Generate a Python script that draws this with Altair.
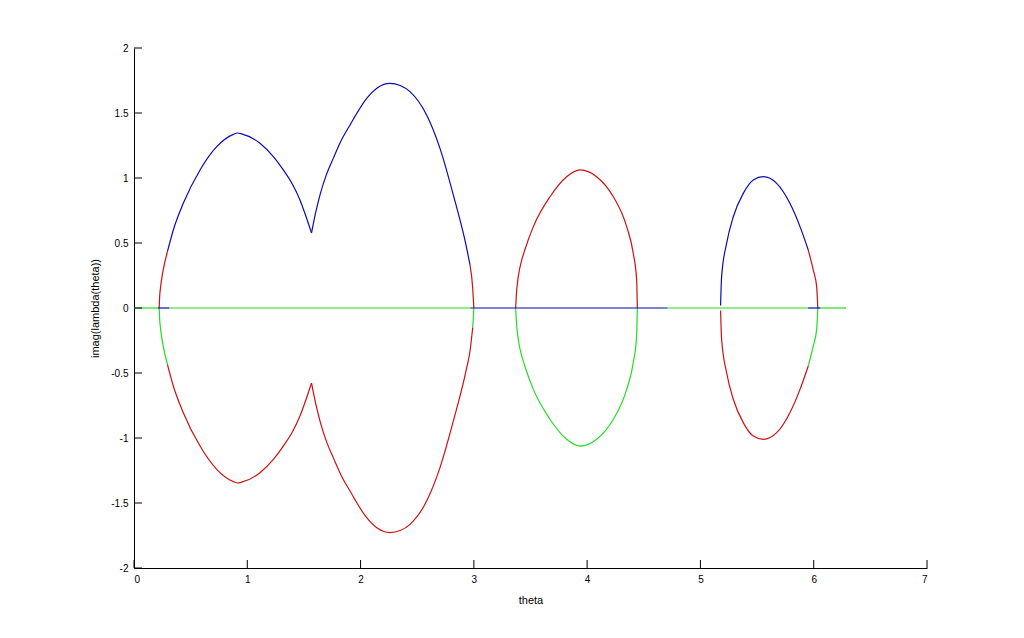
import altair as alt
import pandas as pd

# ---- data ----
x_ticks = [0, 1, 2, 3, 4, 5, 6, 7]
y_ticks = [-2, -1.5, -1, -0.5, 0, 0.5, 1, 1.5, 2]

# blue series
b1_x = [0.21, 0.31]
b1_y = [0.0, 0.0]
b2a_x = [0.295, 0.347, 0.435, 0.583, 0.730, 0.877, 0.912, 0.95, 1.112, 1.230, 1.318, 1.40, 1.465, 1.52, 1.567]
b2a_y = [0.433, 0.600, 0.805, 1.062, 1.241, 1.336, 1.346, 1.340, 1.267, 1.164, 1.062, 0.95, 0.831, 0.70, 0.577]
b2b_x = [1.567, 1.60, 1.642, 1.70, 1.759, 1.83, 1.907, 2.054, 2.15, 2.26, 2.35, 2.436, 2.583, 2.701, 2.819, 2.937, 2.966]
b2b_y = [0.577, 0.72, 0.87, 1.03, 1.151, 1.29, 1.408, 1.613, 1.695, 1.728, 1.712, 1.664, 1.485, 1.228, 0.869, 0.459, 0.331]
b3_x = [2.97, 4.71]
b3_y = [0.0, 0.0]
b4_x = [5.178, 5.187, 5.231, 5.290, 5.378, 5.467, 5.555, 5.673, 5.790, 5.879, 5.952]
b4_y = [0.02, 0.241, 0.497, 0.702, 0.882, 0.985, 1.010, 0.959, 0.805, 0.626, 0.446]
b5_x = [5.95, 6.06]
b5_y = [0.0, 0.0]

# red series
r1_x = [0.222, 0.226, 0.236, 0.255, 0.295]
r1_y = [0.0, 0.08, 0.17, 0.28, 0.433]
r2a_x = [0.295, 0.347, 0.435, 0.583, 0.730, 0.877, 0.912, 0.95, 1.112, 1.230, 1.318, 1.40, 1.465, 1.52, 1.567]
r2a_y = [-0.433, -0.600, -0.805, -1.062, -1.241, -1.336, -1.346, -1.340, -1.267, -1.164, -1.062, -0.95, -0.831, -0.70, -0.577]
r2b_x = [1.567, 1.60, 1.642, 1.70, 1.759, 1.83, 1.907, 2.054, 2.15, 2.26, 2.35, 2.436, 2.583, 2.701, 2.819, 2.937, 2.966, 2.99]
r2b_y = [-0.577, -0.72, -0.87, -1.03, -1.151, -1.29, -1.408, -1.613, -1.695, -1.728, -1.712, -1.664, -1.485, -1.228, -0.869, -0.459, -0.331, -0.15]
r3_x = [2.966, 2.99, 3.0]
r3_y = [0.331, 0.15, 0.0]
r4_x = [3.369, 3.375, 3.392, 3.42, 3.451, 3.525, 3.672, 3.819, 3.937, 4.084, 4.231, 4.349, 4.407, 4.437, 4.443]
r4_y = [0.0, 0.10, 0.241, 0.36, 0.45, 0.626, 0.856, 1.010, 1.062, 1.010, 0.856, 0.626, 0.421, 0.215, 0.0]
r5_x = [5.178, 5.187, 5.231, 5.290, 5.378, 5.467, 5.555, 5.673, 5.790, 5.879, 5.952]
r5_y = [-0.02, -0.241, -0.497, -0.702, -0.882, -0.985, -1.010, -0.959, -0.805, -0.626, -0.446]
r6_x = [5.952, 5.996, 6.026, 6.036]
r6_y = [0.446, 0.292, 0.164, 0.0]

# green series
g1_x = [0.0, 0.21]
g1_y = [0.0, 0.0]
g2_x = [0.222, 0.226, 0.236, 0.255, 0.295]
g2_y = [0.0, -0.08, -0.17, -0.28, -0.433]
g3_x = [0.31, 2.97]
g3_y = [0.0, 0.0]
g4_x = [2.99, 3.0]
g4_y = [-0.15, 0.0]
g5_x = [3.369, 3.375, 3.392, 3.42, 3.451, 3.525, 3.672, 3.819, 3.937, 4.084, 4.231, 4.349, 4.407, 4.437, 4.443]
g5_y = [0.0, -0.10, -0.241, -0.36, -0.45, -0.626, -0.856, -1.010, -1.062, -1.010, -0.856, -0.626, -0.421, -0.215, 0.0]
g6_x = [4.71, 5.95]
g6_y = [0.0, 0.0]
g7_x = [5.952, 5.996, 6.026, 6.036]
g7_y = [-0.446, -0.292, -0.164, 0.0]
g8_x = [6.06, 6.285]
g8_y = [0.0, 0.0]

segments = [
    ("g1", "green", g1_x, g1_y), ("g2", "green", g2_x, g2_y), ("g3", "green", g3_x, g3_y),
    ("g4", "green", g4_x, g4_y), ("g5", "green", g5_x, g5_y), ("g6", "green", g6_x, g6_y),
    ("g7", "green", g7_x, g7_y), ("g8", "green", g8_x, g8_y),
    ("r1", "red", r1_x, r1_y), ("r2a", "red", r2a_x, r2a_y), ("r2b", "red", r2b_x, r2b_y),
    ("r3", "red", r3_x, r3_y), ("r4", "red", r4_x, r4_y), ("r5", "red", r5_x, r5_y),
    ("r6", "red", r6_x, r6_y),
    ("b1", "blue", b1_x, b1_y), ("b2a", "blue", b2a_x, b2a_y), ("b2b", "blue", b2b_x, b2b_y),
    ("b3", "blue", b3_x, b3_y), ("b4", "blue", b4_x, b4_y), ("b5", "blue", b5_x, b5_y),
]

rows = []
for seg, series, xs, ys in segments:
    for i, (xv, yv) in enumerate(zip(xs, ys)):
        rows.append({"theta": xv, "val": yv, "series": series, "seg": seg, "i": i})
df = pd.DataFrame(rows)

W, H = 793, 520
FONT = "Liberation Sans"

xscale = alt.Scale(domain=[0, 7], nice=False, zero=False)
yscale = alt.Scale(domain=[-2, 2], nice=False, zero=False)

lines = alt.Chart(df).mark_line(strokeWidth=1.2, interpolate="monotone", clip=True).encode(
    x=alt.X("theta:Q", scale=xscale,
            axis=alt.Axis(values=x_ticks, title="theta", grid=False, tickSize=0,
                          labelPadding=6, titlePadding=10, domainColor="black",
                          titleFontWeight="normal", labelExpr="'' + datum.value")),
    y=alt.Y("val:Q", scale=yscale,
            axis=alt.Axis(values=y_ticks, title="imag(lambda(theta))", grid=False, tickSize=0,
                          labelPadding=6, titlePadding=10, domainColor="black",
                          titleFontWeight="normal", labelExpr="'' + datum.value")),
    color=alt.Color("series:N", scale=alt.Scale(domain=["blue", "red", "green"],
                                                range=["#0b0bb0", "#cc1010", "#22dd22"]),
                    legend=None),
    detail="seg:N",
    order="i:Q",
)

xt = alt.Chart(pd.DataFrame({"t": x_ticks})).mark_rule(color="black", strokeWidth=1).encode(
    x=alt.X("t:Q", scale=xscale), y=alt.value(H - 8), y2=alt.value(H))
yt = alt.Chart(pd.DataFrame({"t": y_ticks})).mark_rule(color="black", strokeWidth=1).encode(
    y=alt.Y("t:Q", scale=yscale), x=alt.value(0), x2=alt.value(8))

chart = alt.layer(lines, xt, yt).properties(
    width=W, height=H,
    autosize=alt.AutoSizeParams(type="none"),
    padding={"left": 126, "top": 40, "right": 80, "bottom": 50},
    view=alt.ViewBackground(stroke="transparent", strokeWidth=0),
).configure_view(stroke="transparent", strokeWidth=0).configure_axis(
    labelFont=FONT, titleFont=FONT, labelFontSize=11, titleFontSize=11,
    labelColor="black", titleColor="black", titleFontWeight="normal",
    domainWidth=1,
).configure(background="white")

chart.save("out.html", embed_options={"renderer": "svg", "actions": False})
